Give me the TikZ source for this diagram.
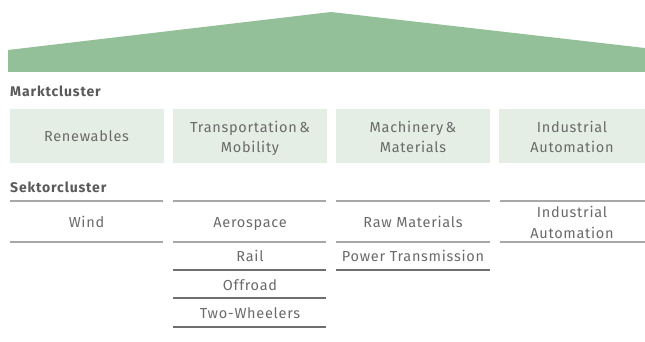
\documentclass[tikz,border=0pt]{standalone}
\usepackage{fontspec}
\setmainfont{Fira Sans}
\newfontfamily\itemfont[LetterSpace=5]{Fira Sans}
\newfontfamily\headfont[LetterSpace=6]{Fira Sans Bold}
\definecolor{roof}{HTML}{93C098}
\definecolor{boxbg}{HTML}{E5EEE5}
\definecolor{txt}{HTML}{6A6A6A}
\definecolor{head}{HTML}{5A5A5A}
\definecolor{lightline}{HTML}{A8A8A8}
\definecolor{darkline}{HTML}{6E6E6E}
\begin{document}
\begin{tikzpicture}[x=1pt,y=-1pt,
  mbox/.style={fill=boxbg, minimum width=154pt, minimum height=54pt, inner sep=0pt, align=center, text=txt, font=\itemfont\fontsize{14.5}{21}\selectfont},
  sitem/.style={text=txt, align=center, inner sep=0pt, font=\itemfont\fontsize{14.5}{21}\selectfont},
  hlabel/.style={text=head, anchor=west, inner sep=0pt, font=\headfont\fontsize{14}{16}\selectfont},
  thickline/.style={draw=lightline, line width=2pt},
  thinline/.style={draw=darkline, line width=1.2pt}]
\useasboundingbox (0,0) rectangle (645,342);
\fill[roof] (8,50) -- (331,12) -- (645,48) -- (645,72) -- (8,72) -- cycle;
\node[hlabel] (mk) at (10,91) {Marktcluster};
\node[hlabel] (sk) at (10,187) {Sektorcluster};
% market boxes
\node[mbox] (m1) at (86.5,136) {};
\node[sitem, anchor=base] (m1t) at (86.5,142) {Renewables};
\node[mbox] (m2) at (250,136) {};
\node[sitem, anchor=base] (m2t) at (250,132) {Transportation\,\&};
\node[sitem, anchor=base] (m2u) at (250,153) {Mobility};
\node[mbox] (m3) at (413,136) {};
\node[sitem, anchor=base] (m3t) at (413,132) {Machinery\,\&};
\node[sitem, anchor=base] (m3u) at (413,153) {Materials};
\node[mbox, minimum width=146pt] (m4) at (572,136) {};
\node[sitem, anchor=base] (m4t) at (572,132) {Industrial};
\node[sitem, anchor=base] (m4u) at (572,153) {Automation};
% column coordinates
\foreach \c/\xa/\xb in {1/10/163, 2/173/326, 3/336/490, 4/500/645}{
  \coordinate (c\c a1) at (\xa,201); \coordinate (c\c b1) at (\xb,201);
  \coordinate (c\c a2) at (\xa,242); \coordinate (c\c b2) at (\xb,242);
  \coordinate (c\c a3) at (\xa,270); \coordinate (c\c b3) at (\xb,270);
  \coordinate (c\c a4) at (\xa,298); \coordinate (c\c b4) at (\xb,298);
  \coordinate (c\c a5) at (\xa,327); \coordinate (c\c b5) at (\xb,327);
}
\foreach \c in {1,2,3,4}{
  \draw[thickline] (c\c a1) -- (c\c b1);
  \draw[thickline] (c\c a2) -- (c\c b2);
}
\draw[thinline] (c2a3) -- (c2b3);
\draw[thinline] (c2a4) -- (c2b4);
\draw[thinline] (c2a5) -- (c2b5);
\draw[thinline] (c3a3) -- (c3b3);
% sector items
\node[sitem, anchor=base] (wind) at (86.5,227.5) {Wind};
\node[sitem, anchor=base] (aero) at (250,227.5) {Aerospace};
\node[sitem, anchor=base] (rail) at (250,261.5) {Rail};
\node[sitem, anchor=base] (off) at (250,290) {Offroad};
\node[sitem, anchor=base] (two) at (250,318) {Two-Wheelers};
\node[sitem, anchor=base] (raw) at (413,227.5) {Raw Materials};
\node[sitem, anchor=base] (pow) at (413,261.5) {Power Transmission};
\node[sitem, anchor=base] (ind) at (572,217) {Industrial};
\node[sitem, anchor=base] (ind2) at (572,238) {Automation};
\end{tikzpicture}
\end{document}
